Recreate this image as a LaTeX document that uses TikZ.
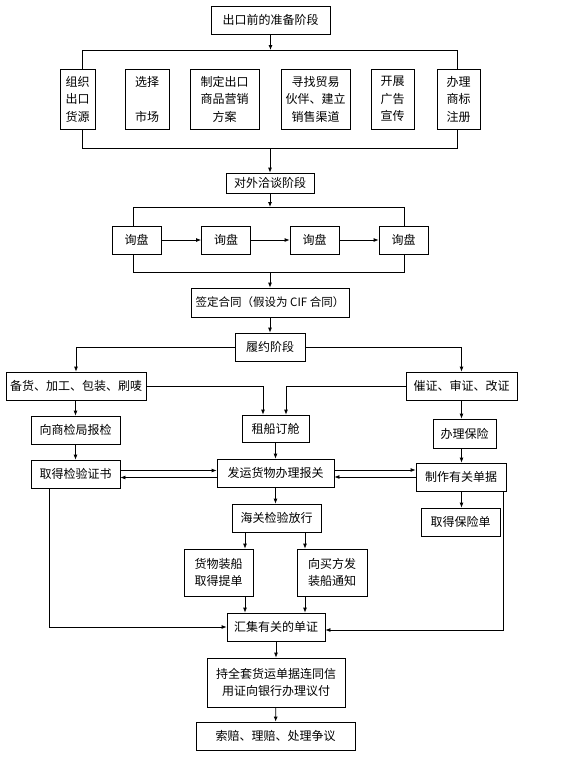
\documentclass[tikz,border=0pt]{standalone}
\usepackage{fontspec}
\newfontfamily\cjk{Noto Sans CJK SC}
\usetikzlibrary{arrows.meta}

\begin{document}
\begin{tikzpicture}[x=1pt,y=-1pt,line width=0.8pt,>={Latex[length=5pt,width=4pt]}]
  \useasboundingbox (0,0) rectangle (568,758);

      \begin{scope}[every node/.style={draw,rectangle,inner sep=0pt,align=center,
          minimum height=28,font=\cjk\fontsize{12}{17.5}\selectfont}]
        \node[minimum width=119] (prep)  at (270.5,20)  {出口前的准备阶段};

        \node[minimum width=35,minimum height=60] (a1) at (77.5,99)  {组织\\出口\\货源};
        \node[minimum width=44,minimum height=60] (a2) at (147,99)   {选择\\\mbox{}\\市场};
        \node[minimum width=69,minimum height=60] (a3) at (224.5,99) {制定出口\\商品营销\\方案};
        \node[minimum width=69,minimum height=60] (a4) at (315.5,99) {寻找贸易\\伙伴、建立\\销售渠道};
        \node[minimum width=43,minimum height=60] (a5) at (392.5,99) {开展\\广告\\宣传};
        \node[minimum width=43,minimum height=60] (a6) at (458.5,99) {办理\\商标\\注册};

        \node[minimum width=88,minimum height=20] (talk) at (270,183) {对外洽谈阶段};

        \node[minimum width=49] (q1) at (136.5,240) {询盘};
        \node[minimum width=49] (q2) at (226,240)   {询盘};
        \node[minimum width=49] (q3) at (314.5,240) {询盘};
        \node[minimum width=49] (q4) at (403.5,240) {询盘};

        \node[minimum width=158,minimum height=29,font=\cjk\fontsize{11.5}{17.5}\selectfont] (sign) at (270,302.5) {签定合同（假设为 CIF 合同）};
        \node[minimum width=70] (perform) at (270,347) {履约阶段};

        \node[minimum width=140] (stock) at (76,386)    {备货、加工、包装、刷唛};
        \node[minimum width=111] (urge)  at (461.5,386) {催证、审证、改证};

        \node[minimum width=67,minimum height=27] (ship) at (275.5,428.5) {租船订舱};
        \node[minimum width=89] (inspect)  at (75.5,430)  {向商检局报检};
        \node[minimum width=89] (cert)     at (75.5,474)  {取得检验证书};
        \node[minimum width=117] (dispatch) at (275.5,473) {发运货物办理报关};
        \node[minimum width=63,minimum height=29] (insure) at (464.5,433.5) {办理保险};
        \node[minimum width=90] (docs)     at (461,477)   {制作有关单据};
        \node[minimum width=79] (policy)   at (460.5,522) {取得保险单};
        \node[minimum width=89] (customs)  at (276.5,518) {海关检验放行};

        \node[minimum width=69,minimum height=47] (load)   at (218.5,572.5) {货物装船\\取得提单};
        \node[minimum width=70,minimum height=47] (notify) at (332,572.5)   {向买方发\\装船通知};

        \node[minimum width=98] (collect) at (276,627) {汇集有关的单证};
        \node[minimum width=138,minimum height=49] (hold) at (276,682.5) {持全套货运单据连同信\\用证向银行办理议付};
        \node[minimum width=159] (claim) at (275.5,736) {索赔、理赔、处理争议};
      \end{scope}

      % rails and corners
      \coordinate (forkA)  at (270,50);
      \coordinate (forkAL) at (82,50);
      \coordinate (forkAR) at (457,50);
      \coordinate (joinAL) at (82,148);
      \coordinate (joinAR) at (457,148);
      \coordinate (forkBL) at (133,207);
      \coordinate (forkBR) at (404,207);
      \coordinate (joinBL) at (133,272);
      \coordinate (joinBR) at (404,272);
      \coordinate (shipInL) at (263,386);
      \coordinate (shipInR) at (286,386);
      \coordinate (splitL) at (245,0);
      \coordinate (splitR) at (305,0);
      \coordinate (leftRail)  at (49,627);
      \coordinate (rightRail) at (503,630);

      \draw[->] (prep.south) -- (prep.south |- forkA);
      \draw (a1.north -| forkAL) |- (forkAR) -- (a6.north -| forkAR);
      \draw (a1.south -| joinAL) |- (joinAR) -- (a6.south -| joinAR);
      \draw[->] (talk.north |- joinAL) -- (talk);

      \draw[->] (talk) -- (talk |- forkBL);
      \draw (q1.north -| forkBL) |- (forkBR) -- (q4.north -| forkBR);
      \draw (q1.south -| joinBL) |- (joinBR) -- (q4.south -| joinBR);
      \foreach \a/\b in {q1/q2,q2/q3,q3/q4}
        \draw[->] (\a) -- (\b);
      \draw[->] (sign.north |- joinBL) -- (sign);
      \draw[->] (sign) -- (perform);

      \draw[->] (perform) -| (stock);
      \draw[->] (perform) -| (urge);
      \draw[->] (stock) -- (shipInL) -- (ship.north -| shipInL);
      \draw[->] (urge) -- (shipInR) -- (ship.north -| shipInR);

      \draw[->] (stock.south -| inspect) -- (inspect);
      \draw[->] (inspect) -- (cert);
      \draw[->] ([yshift=3.5pt]cert.east) -- ([yshift=3.5pt]cert.east -| dispatch.west);
      \draw[<-] ([yshift=-3.5pt]cert.east) -- ([yshift=-3.5pt]cert.east -| dispatch.west);
      \draw[->] ([yshift=3pt]dispatch.east) -- ([yshift=3pt]dispatch.east -| docs.west);
      \draw[<-] ([yshift=-4pt]dispatch.east) -- ([yshift=-4pt]dispatch.east -| docs.west);
      \draw[->] (ship) -- (dispatch);

      \draw[->] (urge) -- (urge |- insure.north);
      \draw[->] (insure.south -| urge) -- (urge |- docs.north);
      \draw[->] (docs.south -| urge) -- (urge |- policy.north);

      \draw[->] (dispatch.south) -- (dispatch.south |- customs.north);
      \draw[->] (customs.south -| splitL) -- (load.north -| splitL);
      \draw[->] (customs.south -| splitR) -- (notify.north -| splitR);
      \draw[->] (load.south -| splitL) -- (collect.north -| splitL);
      \draw[->] (notify.south -| splitR) -- (collect.north -| splitR);

      \draw[->] (cert.south -| leftRail) |- (collect);
      \draw[->] (docs.south -| rightRail) |- (collect.east |- rightRail);
      \draw[->] (collect) -- (hold);
      \draw[->] (hold) -- (claim);

    \end{tikzpicture}
\end{document}
